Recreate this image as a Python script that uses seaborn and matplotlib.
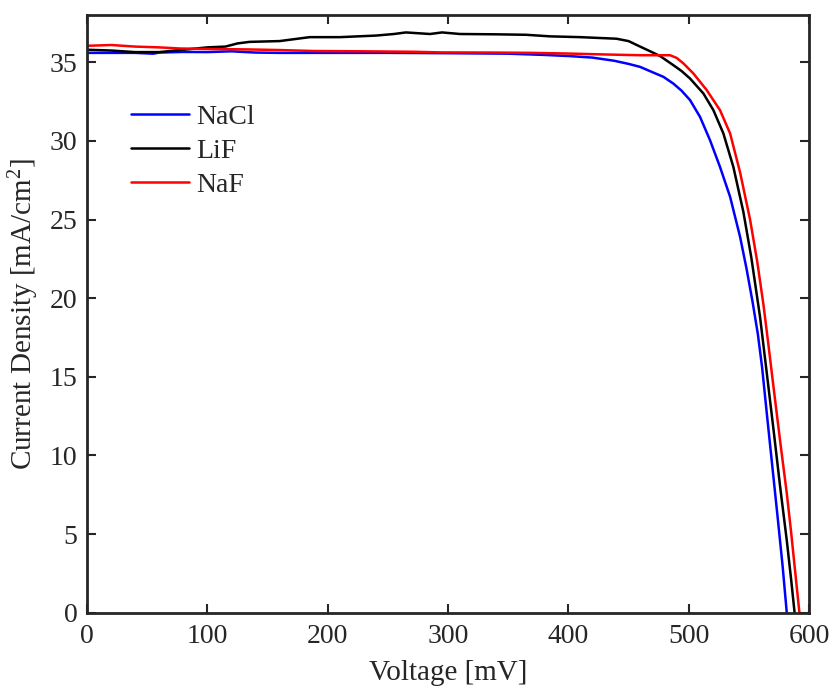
import numpy as np
import pandas as pd
import matplotlib
matplotlib.use("Agg")
import matplotlib.pyplot as plt
import seaborn as sns

# J-V curves for three interlayer materials
nacl_v = [0, 20, 40, 55, 60, 80, 100, 120, 140, 160, 200, 250, 300, 350, 380,
          400, 420, 438, 450, 459.6, 469, 478.9, 487.2, 494, 501.1, 509.4, 517.7,
          526, 534.4, 542.7, 548, 553, 557.5, 561, 565, 569.5, 574, 578, 581.5]
nacl_j = [35.6, 35.6, 35.6, 35.55, 35.62, 35.66, 35.65, 35.7, 35.62, 35.6, 35.6,
          35.6, 35.58, 35.55, 35.47, 35.4, 35.3, 35.1, 34.9, 34.71, 34.4, 34.08,
          33.65, 33.2, 32.6, 31.53, 30.05, 28.35, 26.45, 23.9, 21.9, 19.8, 17.7,
          15.6, 12.6, 9.3, 6.0, 3.0, 0.0]

lif_v = [0, 20, 40, 60, 80, 100, 115, 125, 135, 160, 175, 185, 210, 240, 255,
         265, 275, 285, 295, 310, 340, 365, 385, 410, 440, 450, 459.6, 468,
         476.2, 487.2, 494, 501.1, 512.2, 520.5, 528.8, 537.1, 545.4, 552,
         559.3, 564, 570.4, 576, 581.5, 585, 588]
lif_j = [35.8, 35.75, 35.65, 35.65, 35.8, 35.95, 36.0, 36.2, 36.3, 36.35, 36.5,
         36.6, 36.6, 36.7, 36.8, 36.9, 36.85, 36.8, 36.9, 36.8, 36.78, 36.75,
         36.65, 36.6, 36.5, 36.35, 36.0, 35.7, 35.4, 34.82, 34.45, 33.97, 33.02,
         31.96, 30.48, 28.35, 25.5, 22.6, 18.8, 15.8, 11.7, 8.0, 4.6, 2.2, 0.0]

naf_v = [0, 20, 40, 60, 77, 100, 133, 160, 188, 230, 271, 294, 340, 370, 399,
         430, 459.6, 470, 484.5, 490, 495.6, 503.9, 515, 526, 534.4, 542.7, 551,
         557, 562.1, 566, 570.4, 576, 581.5, 585, 588.5, 592]
naf_j = [36.05, 36.1, 36.0, 35.95, 35.88, 35.85, 35.82, 35.78, 35.72, 35.7,
         35.67, 35.63, 35.62, 35.6, 35.56, 35.5, 35.45, 35.45, 35.45, 35.28,
         34.93, 34.29, 33.23, 31.96, 30.48, 28.0, 25.0, 22.3, 19.6, 17.2, 14.4,
         10.9, 7.6, 5.2, 2.6, 0.0]

series_names = ["NaCl", "LiF", "NaF"]
series_colors = ["#0000ff", "#000000", "#ff0000"]

frames = []
for name, v, j in zip(series_names, [nacl_v, lif_v, naf_v], [nacl_j, lif_j, naf_j]):
    frames.append(pd.DataFrame({"Voltage": v, "Current": j, "Sample": name}))
df = pd.concat(frames, ignore_index=True)

sns.set_theme(style="ticks")
plt.rcParams["font.family"] = ["Liberation Serif", "DejaVu Serif"]
plt.rcParams["mathtext.fontset"] = "custom"
plt.rcParams["mathtext.rm"] = "Liberation Serif"
plt.rcParams["mathtext.it"] = "Liberation Serif:italic"

fig = plt.figure(figsize=(8.32, 6.88), dpi=100)
ax = fig.add_axes([0.1046, 0.1094, 0.8678, 0.8686])

sns.lineplot(data=df, x="Voltage", y="Current", hue="Sample",
             hue_order=series_names, palette=dict(zip(series_names, series_colors)),
             estimator=None, sort=False, linewidth=1.8, ax=ax)

ax.set_xlim(0, 600)
ax.set_ylim(0, 38)
ax.set_xticks(np.arange(0, 601, 100))
ax.set_yticks(np.arange(0, 36, 5))

frame_color = "#262626"
for side in ["left", "right", "top", "bottom"]:
    ax.spines[side].set_visible(True)
    ax.spines[side].set_color(frame_color)
    ax.spines[side].set_linewidth(2.0)

ax.tick_params(axis="both", direction="in", length=6.5, width=1.5,
               colors=frame_color, labelcolor="#262626", labelsize=20,
               top=True, right=True)
ax.tick_params(axis="x", pad=8)
ax.tick_params(axis="y", pad=7)

ax.set_xlabel("Voltage [mV]", fontsize=21, color="#262626", labelpad=8)
ax.set_ylabel("Current Density [mA/cm$^2$]", fontsize=21, color="#262626", labelpad=6)

handles, labels = ax.get_legend_handles_labels()
ax.legend(handles, labels, loc="upper left", bbox_to_anchor=(0.061, 0.85),
          frameon=False, fontsize=20, handlelength=2.1, handletextpad=0.25,
          labelspacing=0.3, borderaxespad=0, borderpad=0)

fig.savefig("out.png", dpi=100)
